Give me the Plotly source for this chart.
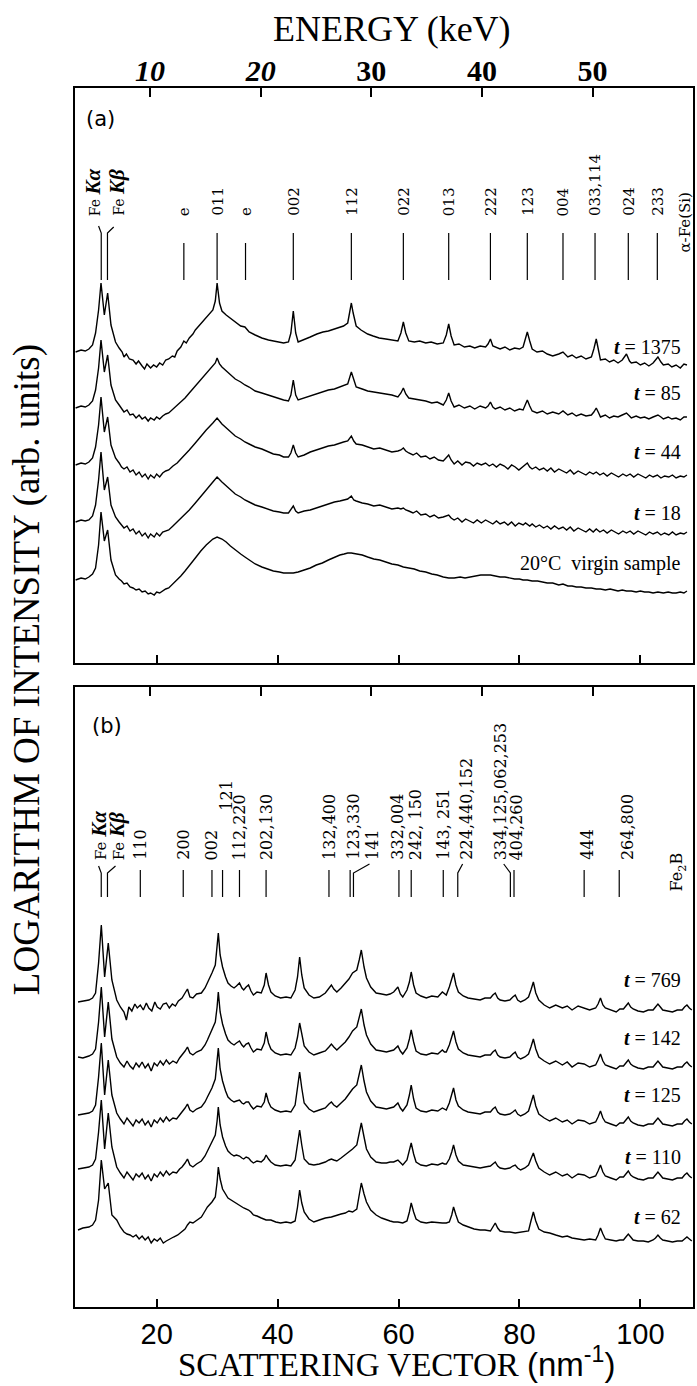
import plotly.graph_objects as go

# ---------------------------------------------------------------------------
# Spectra: (scattering vector q in nm^-1, log intensity in arb. units, stacked)
# ---------------------------------------------------------------------------
# Panel (a): amorphous Fe-Si-B annealed for t minutes
spec_a_1375 = [
    (6.6, 311), (7.5, 313), (8.2, 312), (8.8, 314), (9.4, 318), (9.9, 330), (10.4, 353), (10.8, 380),
    (11.35, 348), (11.9, 370), (12.45, 338), (13.2, 321), (13.8, 315), (14.3, 311), (14.6, 306),
    (15.0, 309), (15.5, 304), (16.1, 303), (16.6, 299), (17.0, 302), (17.6, 297), (18.0, 294),
    (18.4, 299), (19.0, 295), (19.5, 298), (20.0, 296), (20.5, 300), (21.0, 298), (21.5, 303),
    (22.0, 304), (22.6, 307), (23.0, 306), (23.4, 312), (24.0, 316), (24.5, 322), (24.9, 320),
    (25.4, 325), (26.0, 329), (26.4, 333), (27.3, 339), (28.2, 345), (28.8, 349), (29.3, 353),
    (29.7, 362), (30.0, 380), (30.4, 360), (30.8, 352), (31.5, 348), (32.2, 345), (33.0, 341),
    (33.9, 337), (34.6, 336), (35.3, 331), (36.3, 328), (37.4, 325), (38.5, 323), (39.4, 322),
    (40.3, 321), (41.0, 320), (41.8, 321), (42.2, 330), (42.6, 352), (43.0, 330), (43.4, 321),
    (44.3, 323), (45.4, 326), (46.5, 329), (47.5, 331), (48.4, 332), (49.5, 334), (50.3, 336),
    (50.9, 337), (51.6, 340), (52.0, 352), (52.2, 360), (52.5, 350), (53.0, 337), (53.8, 333),
    (54.9, 329), (55.8, 327), (56.8, 325), (57.9, 324), (58.9, 323), (59.9, 322), (60.4, 330),
    (60.8, 341), (61.2, 330), (61.7, 322), (62.6, 321), (63.5, 322), (64.5, 320), (65.4, 321),
    (66.4, 319), (67.4, 320), (67.9, 328), (68.3, 339), (68.7, 327), (69.2, 318), (70.0, 319),
    (70.9, 316), (71.8, 317), (72.6, 315), (73.5, 317), (74.4, 316), (74.8, 319), (75.2, 324),
    (75.6, 317), (76.0, 316), (76.8, 314), (77.6, 316), (78.4, 313), (79.2, 315), (80.0, 314),
    (80.6, 316), (81.0, 325), (81.3, 331), (81.7, 322), (82.1, 314), (82.9, 311), (83.8, 312),
    (84.6, 309), (85.5, 307), (86.5, 309), (87.2, 311), (88.0, 306), (88.7, 308), (89.4, 305),
    (90.2, 307), (91.0, 304), (91.9, 306), (92.3, 314), (92.7, 324), (93.1, 312), (93.4, 303),
    (94.2, 304), (94.9, 301), (95.6, 303), (96.3, 300), (97.0, 303), (97.7, 309), (98.2, 302),
    (98.5, 300), (99.3, 301), (100.0, 298), (100.7, 300), (101.4, 297), (102.1, 300), (102.9, 306),
    (103.4, 301), (103.8, 298), (104.6, 299), (105.2, 296), (105.9, 298), (106.6, 295),
    (107.2, 299), (107.7, 298)]

spec_a_85 = [
    (6.6, 255), (7.5, 257), (8.2, 256), (8.8, 258), (9.4, 262), (9.9, 273), (10.4, 295), (10.8, 323),
    (11.35, 291), (11.9, 308), (12.45, 278), (13.2, 263), (13.8, 258), (14.2, 255), (14.6, 251),
    (15.1, 253), (15.6, 248), (16.1, 249), (16.6, 245), (17.1, 248), (17.6, 244), (18.1, 246),
    (18.6, 242), (19.0, 245), (19.6, 243), (20.0, 246), (20.5, 244), (21.0, 247), (21.5, 249),
    (22.0, 250), (22.7, 254), (23.4, 257), (24.0, 261), (24.7, 265), (25.4, 270), (26.4, 277),
    (27.3, 284), (28.2, 290), (29.3, 297), (29.7, 300), (30.0, 305), (30.4, 299), (30.8, 296),
    (31.5, 292), (32.2, 288), (33.0, 284), (33.9, 281), (34.6, 278), (35.3, 276), (36.3, 272),
    (37.4, 270), (38.4, 268), (39.3, 266), (40.3, 264), (41.0, 263), (41.8, 262), (42.2, 268),
    (42.6, 283), (43.0, 268), (43.4, 263), (44.4, 265), (45.4, 267), (46.4, 269), (47.4, 271),
    (48.4, 273), (49.4, 274), (50.3, 276), (50.9, 277), (51.6, 279), (52.2, 291), (52.6, 283),
    (53.0, 276), (54.0, 274), (54.9, 272), (55.9, 271), (56.9, 270), (57.9, 269), (58.9, 268),
    (59.9, 266), (60.4, 270), (60.8, 275), (61.2, 269), (61.7, 265), (62.6, 264), (63.5, 263),
    (64.5, 262), (65.5, 260), (66.4, 261), (67.4, 258), (67.9, 263), (68.3, 270), (68.7, 262),
    (69.2, 256), (70.0, 258), (70.9, 255), (71.8, 257), (72.6, 254), (73.5, 257), (74.4, 255),
    (74.8, 257), (75.2, 261), (75.6, 256), (76.0, 254), (76.8, 256), (77.6, 253), (78.4, 255),
    (79.2, 252), (80.0, 254), (80.6, 253), (81.0, 258), (81.3, 263), (81.7, 257), (82.1, 252),
    (82.9, 250), (83.8, 252), (84.6, 249), (85.5, 251), (86.5, 249), (87.2, 252), (88.0, 248),
    (88.7, 250), (89.4, 247), (90.2, 249), (91.0, 247), (91.9, 248), (92.3, 251), (92.7, 255),
    (93.1, 250), (93.4, 246), (94.2, 248), (94.9, 245), (95.6, 247), (96.3, 246), (97.0, 248),
    (97.7, 250), (98.2, 247), (98.5, 245), (99.3, 247), (100.0, 245), (100.7, 246), (101.4, 244),
    (102.1, 246), (102.9, 248), (103.4, 246), (103.8, 244), (104.6, 246), (105.2, 244),
    (105.9, 245), (106.6, 243), (107.2, 246), (107.7, 246)]

spec_a_44 = [
    (6.6, 198), (7.5, 200), (8.2, 199), (8.8, 201), (9.4, 205), (9.9, 216), (10.4, 238), (10.8, 266),
    (11.35, 231), (11.9, 246), (12.45, 218), (13.2, 205), (13.8, 200), (14.2, 196), (14.6, 194),
    (15.1, 196), (15.6, 191), (16.1, 193), (16.6, 188), (17.1, 191), (17.6, 186), (18.1, 189),
    (18.6, 184), (19.0, 188), (19.6, 185), (20.0, 189), (20.5, 186), (21.0, 190), (21.5, 192),
    (22.0, 193), (22.7, 197), (23.4, 200), (24.0, 204), (24.7, 208), (25.4, 213), (26.4, 220),
    (27.3, 227), (28.2, 233), (29.3, 240), (30.0, 245), (30.8, 239), (31.5, 235), (32.2, 231),
    (33.0, 227), (33.9, 224), (34.6, 221), (35.3, 219), (36.3, 216), (37.4, 214), (38.4, 211),
    (39.3, 209), (40.3, 208), (41.0, 206), (41.8, 206), (42.2, 210), (42.6, 218), (43.0, 210),
    (43.4, 206), (44.4, 208), (45.4, 211), (46.4, 213), (47.4, 215), (48.4, 217), (49.4, 218),
    (50.3, 220), (50.9, 221), (51.6, 222), (52.2, 227), (52.6, 222), (53.0, 219), (54.0, 218),
    (54.9, 216), (55.9, 214), (56.9, 215), (57.9, 213), (58.9, 211), (59.9, 212), (60.4, 213),
    (60.8, 215), (61.2, 212), (61.7, 210), (62.4, 208), (63.0, 210), (63.7, 206), (64.5, 207),
    (65.2, 204), (65.9, 206), (66.6, 203), (67.4, 202), (67.9, 205), (68.3, 208), (68.7, 203),
    (69.2, 199), (69.8, 202), (70.5, 198), (71.1, 201), (71.8, 200), (72.4, 197), (73.0, 200),
    (73.7, 198), (74.4, 200), (75.0, 197), (75.6, 199), (76.2, 196), (76.8, 199), (77.5, 197),
    (78.1, 194), (78.7, 198), (79.3, 196), (79.9, 193), (80.6, 197), (81.0, 199), (81.3, 200),
    (81.7, 196), (82.1, 194), (82.7, 196), (83.3, 193), (84.0, 195), (84.6, 192), (85.2, 195),
    (85.8, 191), (86.5, 194), (87.2, 192), (87.8, 190), (88.4, 193), (89.0, 189), (89.7, 192),
    (90.3, 190), (91.0, 188), (91.6, 191), (92.2, 189), (92.7, 191), (93.3, 188), (93.9, 190),
    (94.5, 187), (95.2, 190), (95.8, 188), (96.4, 186), (97.1, 189), (97.7, 187), (98.3, 189),
    (98.9, 186), (99.6, 189), (100.2, 187), (100.9, 185), (101.5, 188), (102.1, 186), (102.8, 188),
    (103.4, 185), (104.0, 187), (104.7, 186), (105.3, 188), (105.9, 185), (106.6, 187),
    (107.2, 186), (107.7, 188)]

spec_a_18 = [
    (6.6, 141), (7.5, 143), (8.2, 142), (8.8, 143), (9.4, 147), (9.9, 158), (10.4, 183), (10.8, 211),
    (11.35, 173), (11.9, 186), (12.45, 158), (13.2, 146), (13.8, 141), (14.2, 138), (14.6, 135),
    (15.1, 137), (15.6, 132), (16.1, 134), (16.6, 129), (17.1, 132), (17.6, 127), (18.1, 130),
    (18.6, 125), (19.0, 129), (19.6, 126), (20.0, 130), (20.5, 127), (21.0, 131), (21.5, 132),
    (22.0, 133), (22.7, 137), (23.4, 141), (24.0, 145), (24.7, 149), (25.4, 153), (26.4, 160),
    (27.3, 167), (28.2, 173), (29.3, 181), (30.0, 186), (30.8, 181), (31.5, 177), (32.2, 173),
    (33.0, 169), (33.9, 166), (34.6, 163), (35.3, 161), (36.3, 158), (37.4, 156), (38.4, 154),
    (39.3, 152), (40.3, 151), (41.0, 150), (41.8, 150), (42.2, 153), (42.6, 157), (43.0, 152),
    (43.4, 150), (44.4, 152), (45.4, 153), (46.4, 155), (47.4, 157), (48.4, 159), (49.4, 161),
    (50.3, 162), (50.9, 163), (51.6, 164), (52.2, 167), (52.6, 163), (53.0, 162), (54.0, 160),
    (54.9, 159), (55.9, 157), (56.9, 158), (57.9, 156), (58.9, 154), (59.9, 155), (60.4, 154),
    (60.8, 155), (61.2, 153), (61.7, 152), (62.4, 150), (63.0, 152), (63.7, 148), (64.5, 149),
    (65.2, 146), (65.9, 148), (66.6, 145), (67.4, 146), (67.9, 147), (68.3, 148), (68.7, 145),
    (69.2, 143), (69.8, 145), (70.5, 141), (71.1, 144), (71.8, 142), (72.4, 140), (73.0, 143),
    (73.7, 140), (74.4, 143), (75.0, 141), (75.6, 139), (76.2, 142), (76.8, 139), (77.5, 141),
    (78.1, 138), (78.7, 141), (79.3, 137), (79.9, 140), (80.6, 138), (81.0, 140), (81.3, 139),
    (81.7, 137), (82.1, 139), (82.7, 136), (83.3, 138), (84.0, 135), (84.6, 137), (85.2, 134),
    (85.8, 137), (86.5, 134), (87.2, 136), (87.8, 133), (88.4, 136), (89.0, 132), (89.7, 135),
    (90.3, 133), (91.0, 131), (91.6, 134), (92.2, 131), (92.7, 134), (93.3, 131), (93.9, 133),
    (94.5, 130), (95.2, 133), (95.8, 131), (96.4, 129), (97.1, 132), (97.7, 130), (98.3, 132),
    (98.9, 129), (99.6, 132), (100.2, 130), (100.9, 128), (101.5, 131), (102.1, 129), (102.8, 131),
    (103.4, 128), (104.0, 130), (104.7, 128), (105.3, 131), (105.9, 128), (106.6, 130),
    (107.2, 129), (107.7, 131)]

spec_a_virgin = [
    (6.6, 83), (7.5, 85), (8.2, 84), (8.8, 86), (9.4, 89), (9.9, 95), (10.4, 118), (10.8, 151),
    (11.35, 122), (11.9, 133), (12.45, 103), (13.2, 88), (13.8, 84), (14.2, 82), (14.6, 79),
    (15.1, 80), (15.6, 76), (16.1, 75), (16.6, 73), (17.1, 74), (17.6, 71), (18.1, 72), (18.6, 69),
    (19.0, 70), (19.6, 68), (20.0, 71), (20.5, 70), (21.0, 72), (21.5, 74), (22.0, 75), (22.7, 79),
    (23.4, 83), (24.0, 87), (24.7, 92), (25.4, 97), (26.4, 105), (27.3, 112), (28.2, 118),
    (29.3, 124), (30.0, 126), (30.8, 124), (31.5, 121), (32.2, 117), (33.0, 113), (33.9, 109),
    (34.6, 106), (35.3, 103), (36.3, 99), (37.4, 96), (38.4, 94), (39.3, 92), (40.3, 91),
    (41.0, 90), (41.8, 90), (42.6, 90), (43.4, 91), (44.4, 93), (45.4, 95), (46.4, 98), (47.4, 100),
    (48.4, 103), (49.4, 106), (50.3, 108), (51.0, 109), (51.6, 110), (52.2, 110), (53.0, 109),
    (54.0, 108), (54.9, 106), (55.9, 104), (56.9, 103), (57.9, 101), (58.9, 99), (59.9, 98),
    (60.8, 96), (61.7, 95), (62.6, 94), (63.5, 92), (64.5, 91), (65.5, 89), (66.4, 88), (67.4, 86),
    (68.3, 85), (69.2, 85), (70.2, 86), (71.0, 85), (71.8, 86), (72.8, 87), (73.6, 88), (74.4, 88),
    (75.2, 88), (76.0, 87), (76.8, 86), (77.6, 86), (78.4, 85), (79.2, 84), (80.0, 84), (80.6, 83),
    (81.3, 83), (82.1, 82), (83.0, 82), (83.8, 81), (84.6, 80), (85.5, 80), (86.5, 78), (87.2, 79),
    (88.0, 77), (88.7, 77), (89.4, 76), (90.2, 76), (91.0, 75), (91.9, 75), (92.7, 74), (93.4, 74),
    (94.2, 73), (95.0, 74), (95.6, 73), (96.3, 72), (97.0, 73), (97.7, 72), (98.5, 72), (99.3, 71),
    (100.0, 72), (100.7, 71), (101.4, 71), (102.1, 70), (102.9, 71), (103.8, 70), (104.6, 71),
    (105.3, 70), (105.9, 70), (106.6, 71), (107.2, 70), (107.7, 72)]

labels_a = ["<b><i>t</i></b> = 1375", "<b><i>t</i></b> = 85", "<b><i>t</i></b> = 44",
            "<b><i>t</i></b> = 18", "20°C  virgin sample"]
label_level_a = [316, 270, 211, 150, 100]

# Panel (b)
spec_b_769 = [
    (7.0, 305), (7.8, 306), (8.8, 307), (9.4, 309), (9.9, 314), (10.4, 344), (10.85, 382), (11.4, 330),
    (12.0, 364), (12.6, 327), (13.4, 307), (14.0, 300), (14.6, 295), (15.0, 287), (15.4, 300),
    (15.9, 296), (16.4, 303), (16.8, 299), (17.3, 302), (17.8, 297), (18.3, 304), (18.7, 299),
    (19.2, 296), (19.7, 305), (20.1, 300), (20.6, 298), (21.1, 303), (21.6, 304), (22.1, 299),
    (22.6, 303), (23.1, 301), (23.6, 306), (24.2, 309), (24.7, 314), (25.1, 318), (25.5, 310),
    (26.0, 309), (26.6, 313), (27.4, 314), (28.0, 319), (28.4, 324), (29.15, 334), (29.7, 342),
    (30.0, 360), (30.2, 374), (30.5, 352), (30.9, 340), (31.4, 330), (31.8, 324), (32.3, 321),
    (32.8, 319), (33.2, 321), (33.7, 324), (34.1, 319), (34.4, 317), (34.8, 320), (35.2, 322),
    (35.6, 316), (36.0, 312), (36.6, 315), (37.3, 314), (37.8, 322), (38.1, 334), (38.5, 322),
    (38.9, 315), (39.6, 311), (40.5, 309), (41.4, 310), (42.2, 309), (42.9, 317), (43.3, 330),
    (43.65, 350), (44.0, 332), (44.4, 319), (45.2, 312), (46.0, 309), (46.9, 310), (47.9, 314),
    (48.5, 319), (48.9, 322), (49.3, 318), (49.8, 315), (50.5, 319), (51.2, 324), (51.8, 328),
    (52.4, 334), (53.1, 337), (53.5, 347), (53.85, 357), (54.3, 340), (54.7, 329), (55.4, 320),
    (56.3, 314), (57.2, 313), (58.0, 312), (58.6, 313), (59.2, 315), (59.9, 320), (60.3, 313),
    (60.7, 310), (61.4, 317), (61.8, 325), (62.1, 335), (62.5, 322), (62.9, 314), (63.7, 311),
    (64.6, 309), (65.5, 311), (66.5, 310), (67.25, 315), (67.6, 313), (67.9, 312), (68.4, 320),
    (68.8, 328), (69.1, 334), (69.5, 322), (69.9, 315), (70.7, 311), (71.5, 309), (72.5, 308),
    (73.5, 307), (74.3, 309), (75.2, 309), (75.6, 312), (76.0, 314), (76.4, 309), (76.8, 307),
    (77.6, 306), (78.4, 307), (78.9, 310), (79.3, 312), (79.7, 307), (80.2, 305), (80.9, 307),
    (81.5, 310), (81.9, 317), (82.3, 325), (82.7, 314), (83.2, 307), (84.1, 302), (85.0, 299),
    (86.0, 302), (87.1, 299), (87.9, 301), (88.7, 297), (89.7, 301), (90.7, 299), (91.6, 297),
    (92.6, 299), (93.0, 303), (93.4, 309), (93.8, 302), (94.2, 299), (95.1, 297), (96.0, 295),
    (96.6, 298), (97.2, 298), (97.6, 301), (98.0, 304), (98.4, 300), (98.8, 298), (99.6, 296),
    (100.5, 295), (101.3, 297), (102.1, 297), (102.5, 300), (102.9, 303), (103.3, 300),
    (103.7, 297), (104.5, 296), (105.3, 295), (106.1, 297), (106.9, 297), (107.3, 300),
    (107.7, 302), (108.1, 299), (108.5, 297)]

spec_b_142 = [
    (7.0, 250), (7.8, 249), (8.8, 251), (9.4, 253), (9.9, 258), (10.4, 285), (10.85, 320), (11.4, 270),
    (12.0, 305), (12.6, 268), (13.4, 250), (14.0, 244), (14.6, 240), (15.1, 246), (15.6, 241),
    (16.1, 238), (16.6, 244), (17.1, 240), (17.6, 245), (18.1, 239), (18.6, 243), (19.1, 236),
    (19.6, 244), (20.1, 241), (20.6, 246), (21.1, 242), (21.6, 247), (22.1, 243), (22.7, 246),
    (23.3, 244), (23.8, 249), (24.2, 252), (24.7, 256), (25.1, 260), (25.5, 254), (26.0, 252),
    (26.6, 255), (27.4, 257), (28.0, 262), (28.4, 267), (29.15, 277), (29.7, 285), (30.0, 300),
    (30.2, 315), (30.5, 295), (30.9, 283), (31.4, 273), (31.8, 267), (32.3, 264), (32.8, 262),
    (33.2, 264), (33.7, 266), (34.1, 262), (34.4, 260), (34.8, 263), (35.2, 264), (35.6, 259),
    (36.0, 255), (36.6, 258), (37.3, 257), (37.8, 264), (38.1, 275), (38.5, 264), (38.9, 258),
    (39.6, 254), (40.5, 252), (41.4, 253), (42.2, 252), (42.9, 259), (43.3, 270), (43.65, 284),
    (44.0, 272), (44.4, 261), (45.2, 255), (46.0, 252), (46.9, 254), (47.9, 256), (48.5, 260),
    (48.9, 263), (49.3, 260), (49.8, 257), (50.5, 261), (51.2, 265), (51.8, 270), (52.4, 276),
    (53.1, 280), (53.5, 289), (53.85, 298), (54.3, 282), (54.7, 272), (55.4, 263), (56.3, 257),
    (57.2, 256), (58.0, 255), (58.6, 256), (59.2, 257), (59.9, 261), (60.3, 256), (60.7, 253),
    (61.4, 259), (61.8, 268), (62.1, 277), (62.5, 265), (62.9, 256), (63.7, 253), (64.6, 252),
    (65.5, 254), (66.5, 253), (67.25, 257), (67.6, 255), (67.9, 255), (68.4, 262), (68.8, 270),
    (69.1, 276), (69.5, 265), (69.9, 258), (70.7, 254), (71.5, 252), (72.5, 251), (73.5, 250),
    (74.3, 252), (75.2, 252), (75.6, 255), (76.0, 257), (76.4, 252), (76.8, 250), (77.6, 249),
    (78.4, 250), (78.9, 253), (79.3, 255), (79.7, 250), (80.2, 248), (80.9, 250), (81.5, 253),
    (81.9, 260), (82.3, 268), (82.7, 258), (83.2, 250), (84.1, 246), (85.0, 243), (86.0, 246),
    (87.1, 242), (87.9, 245), (88.7, 240), (89.7, 244), (90.7, 243), (91.6, 240), (92.6, 242),
    (93.0, 247), (93.4, 253), (93.8, 246), (94.2, 242), (95.1, 240), (96.0, 238), (96.6, 241),
    (97.2, 241), (97.6, 244), (98.0, 247), (98.4, 243), (98.8, 241), (99.6, 239), (100.5, 238),
    (101.3, 240), (102.1, 240), (102.5, 243), (102.9, 246), (103.3, 243), (103.7, 240),
    (104.5, 239), (105.3, 238), (106.1, 240), (106.9, 240), (107.3, 243), (107.7, 245),
    (108.1, 242), (108.5, 240)]

spec_b_125 = [
    (7.0, 192), (7.8, 193), (8.8, 194), (9.4, 196), (9.9, 202), (10.4, 230), (10.85, 264), (11.4, 212),
    (12.0, 247), (12.6, 212), (13.4, 194), (14.0, 188), (14.6, 183), (15.1, 189), (15.6, 185),
    (16.1, 181), (16.6, 187), (17.1, 184), (17.6, 188), (18.1, 182), (18.6, 186), (19.1, 180),
    (19.6, 187), (20.1, 184), (20.6, 189), (21.1, 185), (21.6, 190), (22.1, 186), (22.7, 189),
    (23.3, 188), (23.8, 192), (24.2, 195), (24.7, 199), (25.1, 203), (25.5, 197), (26.0, 195),
    (26.6, 198), (27.4, 200), (28.0, 205), (28.4, 210), (29.15, 219), (29.7, 228), (30.0, 243),
    (30.2, 259), (30.5, 238), (30.9, 226), (31.4, 216), (31.8, 210), (32.3, 207), (32.8, 205),
    (33.2, 206), (33.7, 207), (34.1, 204), (34.4, 203), (34.8, 205), (35.2, 205), (35.6, 201),
    (36.0, 198), (36.6, 201), (37.3, 200), (37.8, 205), (38.1, 214), (38.5, 205), (38.9, 200),
    (39.6, 197), (40.5, 195), (41.4, 196), (42.2, 195), (42.9, 202), (43.3, 218), (43.65, 235),
    (44.0, 219), (44.4, 204), (45.2, 198), (46.0, 195), (46.9, 197), (47.9, 199), (48.5, 203),
    (48.9, 205), (49.3, 202), (49.8, 200), (50.5, 204), (51.2, 208), (51.8, 213), (52.4, 218),
    (53.1, 222), (53.5, 232), (53.85, 242), (54.3, 226), (54.7, 215), (55.4, 206), (56.3, 200),
    (57.2, 199), (58.0, 198), (58.6, 199), (59.2, 200), (59.9, 204), (60.3, 199), (60.7, 196),
    (61.4, 202), (61.8, 212), (62.1, 222), (62.5, 208), (62.9, 199), (63.7, 196), (64.6, 195),
    (65.5, 197), (66.5, 196), (67.25, 199), (67.6, 198), (67.9, 197), (68.4, 204), (68.8, 212),
    (69.1, 219), (69.5, 207), (69.9, 201), (70.7, 197), (71.5, 195), (72.5, 194), (73.5, 193),
    (74.3, 195), (75.2, 195), (75.6, 198), (76.0, 200), (76.4, 195), (76.8, 193), (77.6, 192),
    (78.4, 193), (78.9, 195), (79.3, 197), (79.7, 193), (80.2, 191), (80.9, 193), (81.5, 196),
    (81.9, 204), (82.3, 212), (82.7, 201), (83.2, 193), (84.1, 189), (85.0, 186), (86.0, 189),
    (87.1, 185), (87.9, 187), (88.7, 183), (89.7, 187), (90.7, 186), (91.6, 183), (92.6, 185),
    (93.0, 190), (93.4, 196), (93.8, 189), (94.2, 185), (95.1, 183), (96.0, 181), (96.6, 184),
    (97.2, 184), (97.6, 187), (98.0, 190), (98.4, 186), (98.8, 184), (99.6, 182), (100.5, 181),
    (101.3, 183), (102.1, 183), (102.5, 186), (102.9, 189), (103.3, 186), (103.7, 183),
    (104.5, 182), (105.3, 181), (106.1, 183), (106.9, 183), (107.3, 186), (107.7, 188),
    (108.1, 185), (108.5, 183)]

spec_b_110 = [
    (7.0, 138), (7.8, 139), (8.8, 140), (9.4, 142), (9.9, 148), (10.4, 175), (10.85, 207), (11.4, 158),
    (12.0, 194), (12.6, 160), (13.4, 140), (14.0, 134), (14.6, 129), (15.1, 135), (15.6, 131),
    (16.1, 127), (16.6, 133), (17.1, 130), (17.6, 134), (18.1, 128), (18.6, 132), (19.1, 126),
    (19.6, 133), (20.1, 130), (20.6, 135), (21.1, 131), (21.6, 136), (22.1, 132), (22.7, 135),
    (23.3, 134), (23.8, 138), (24.2, 140), (24.7, 144), (25.1, 148), (25.5, 142), (26.0, 140),
    (26.6, 143), (27.4, 146), (28.0, 151), (28.4, 156), (29.15, 164), (29.7, 172), (30.0, 186),
    (30.2, 200), (30.5, 182), (30.9, 170), (31.4, 161), (31.8, 156), (32.3, 153), (32.8, 151),
    (33.2, 152), (33.7, 151), (34.1, 149), (34.4, 148), (34.8, 150), (35.2, 149), (35.6, 146),
    (36.0, 144), (36.6, 146), (37.3, 145), (37.8, 148), (38.1, 152), (38.5, 148), (38.9, 145),
    (39.6, 142), (40.5, 141), (41.4, 142), (42.2, 141), (42.9, 147), (43.3, 162), (43.65, 177),
    (44.0, 162), (44.4, 148), (45.2, 143), (46.0, 142), (46.9, 143), (47.9, 145), (48.5, 147),
    (48.9, 148), (49.3, 147), (49.8, 146), (50.5, 149), (51.2, 152), (51.8, 155), (52.4, 158),
    (53.1, 162), (53.5, 173), (53.85, 184), (54.3, 170), (54.7, 158), (55.4, 150), (56.3, 145),
    (57.2, 144), (58.0, 144), (58.6, 145), (59.2, 145), (59.9, 147), (60.3, 144), (60.7, 142),
    (61.4, 147), (61.8, 156), (62.1, 164), (62.5, 153), (62.9, 145), (63.7, 142), (64.6, 141),
    (65.5, 143), (66.5, 142), (67.25, 144), (67.6, 143), (67.9, 143), (68.4, 148), (68.8, 155),
    (69.1, 162), (69.5, 152), (69.9, 146), (70.7, 142), (71.5, 141), (72.5, 140), (73.5, 139),
    (74.3, 140), (75.2, 141), (75.6, 143), (76.0, 145), (76.4, 141), (76.8, 139), (77.6, 138),
    (78.4, 139), (78.9, 141), (79.3, 142), (79.7, 139), (80.2, 137), (80.9, 139), (81.5, 142),
    (81.9, 148), (82.3, 154), (82.7, 146), (83.2, 139), (84.1, 135), (85.0, 132), (86.0, 135),
    (87.1, 131), (87.9, 133), (88.7, 129), (89.7, 133), (90.7, 132), (91.6, 129), (92.6, 131),
    (93.0, 136), (93.4, 142), (93.8, 135), (94.2, 131), (95.1, 129), (96.0, 127), (96.6, 130),
    (97.2, 130), (97.6, 133), (98.0, 136), (98.4, 132), (98.8, 130), (99.6, 128), (100.5, 127),
    (101.3, 129), (102.1, 129), (102.5, 132), (102.9, 135), (103.3, 132), (103.7, 129),
    (104.5, 128), (105.3, 127), (106.1, 129), (106.9, 129), (107.3, 132), (107.7, 134),
    (108.1, 131), (108.5, 129)]

spec_b_62 = [
    (7.0, 77), (7.8, 79), (8.8, 80), (9.4, 82), (9.9, 87), (10.4, 107), (10.85, 147), (11.4, 118),
    (12.0, 124), (12.6, 92), (13.4, 87), (14.0, 80), (14.6, 75), (15.1, 73), (15.6, 72), (16.1, 70),
    (16.6, 72), (17.1, 68), (17.6, 71), (18.1, 67), (18.6, 70), (19.1, 64), (19.6, 68), (20.1, 66),
    (20.6, 69), (21.1, 64), (21.6, 66), (22.1, 68), (22.8, 70), (23.5, 72), (24.2, 75), (24.7, 78),
    (25.1, 82), (25.5, 85), (26.0, 84), (26.7, 87), (27.4, 90), (28.0, 96), (28.4, 100), (29.15, 105),
    (29.7, 110), (30.0, 125), (30.2, 140), (30.5, 128), (30.9, 118), (31.8, 109), (32.8, 105),
    (33.7, 102), (34.4, 99), (35.2, 97), (35.6, 95), (36.0, 92), (36.6, 91), (37.3, 89), (38.1, 87),
    (38.9, 87), (39.7, 85), (40.5, 84), (41.4, 85), (42.2, 84), (42.9, 86), (43.3, 100), (43.65, 117),
    (44.0, 104), (44.4, 95), (45.2, 88), (46.0, 85), (46.9, 87), (47.9, 89), (48.9, 90), (49.8, 92),
    (50.5, 93), (51.2, 94), (51.8, 96), (52.4, 95), (53.1, 98), (53.5, 112), (53.85, 124),
    (54.3, 113), (54.7, 105), (55.4, 97), (56.3, 92), (57.2, 89), (58.0, 87), (58.6, 86), (59.2, 85),
    (59.9, 85), (60.7, 84), (61.4, 86), (61.8, 95), (62.1, 104), (62.5, 95), (62.9, 88), (63.7, 85),
    (64.6, 84), (65.5, 85), (66.5, 84), (67.25, 84), (67.9, 84), (68.4, 85), (68.8, 92), (69.1, 100),
    (69.5, 92), (69.9, 85), (70.7, 82), (71.5, 80), (72.5, 78), (73.5, 77), (74.3, 77), (75.2, 76),
    (75.6, 80), (76.0, 84), (76.4, 79), (76.8, 76), (77.6, 75), (78.4, 75), (79.3, 74), (80.2, 75),
    (80.9, 76), (81.5, 76), (81.9, 86), (82.3, 95), (82.7, 86), (83.2, 78), (84.1, 75), (85.0, 74),
    (86.0, 72), (87.1, 70), (87.9, 71), (88.7, 69), (89.7, 68), (90.7, 67), (91.6, 68), (92.6, 67),
    (93.0, 72), (93.4, 79), (93.8, 73), (94.2, 68), (95.1, 67), (96.0, 66), (96.6, 67), (97.2, 67),
    (97.6, 70), (98.0, 73), (98.4, 70), (98.8, 67), (99.6, 66), (100.5, 66), (101.3, 65),
    (102.1, 67), (102.5, 69), (102.9, 72), (103.3, 69), (103.7, 67), (104.5, 66), (105.3, 65),
    (106.1, 66), (106.9, 66), (107.3, 68), (107.7, 70), (108.1, 68), (108.5, 66)]

labels_b = ["<b><i>t</i></b> = 769", "<b><i>t</i></b> = 142", "<b><i>t</i></b> = 125",
            "<b><i>t</i></b> = 110", "<b><i>t</i></b> = 62"]
label_level_b = [327, 269, 212, 150, 90]

# ---------------------------------------------------------------------------
# Reflection markers
# ---------------------------------------------------------------------------
refl_a = [("e", 24.5), ("011", 30.0), ("e", 34.7), ("002", 42.6), ("112", 52.2),
          ("022", 60.8), ("013", 68.3), ("222", 75.2), ("123", 81.3), ("004", 87.2),
          ("033,114", 92.5), ("024", 98.0), ("233", 102.8)]

# (label, line position, label position)
refl_b = [("110", 17.3, 17.3), ("200", 24.4, 24.4), ("002", 29.15, 29.15),
          ("112,220", 33.7, 33.7), ("202,130", 38.1, 38.1), ("132,400", 48.5, 48.5),
          ("123,330", 52.0, 52.4), ("332,004", 60.07, 59.7), ("242, 150", 62.1, 62.85),
          ("143, 251", 67.4, 67.4), ("404,260", 79.1, 79.5), ("444", 90.7, 91.2),
          ("264,800", 96.5, 97.8)]
# markers whose leader bends from the label to the line
refl_b_bent = [("141", 52.55, 55.7), ("224,440,152", 69.8, 71.1),
               ("334,125,062,253", 78.5, 76.9)]

fe_lines = [10.84, 11.87]          # Fe K-alpha, K-beta fluorescence
KEV_SLOPE, KEV_OFFSET = 1.83, 0.6  # q = KEV_SLOPE * E + KEV_OFFSET
Q_RANGE = [6.5, 108.7]
E_RANGE = [(Q_RANGE[0] - KEV_OFFSET) / KEV_SLOPE, (Q_RANGE[1] - KEV_OFFSET) / KEV_SLOPE]

# ---------------------------------------------------------------------------
# Layout helpers (pixel -> paper)
# ---------------------------------------------------------------------------
W, H = 697, 1386
ML, MR, MT, MB = 75, 2, 88, 79
PW, PH = W - ML - MR, H - MT - MB


def px_x(px):
    return (px - ML) / PW


def px_y(py):
    return (H - MB - py) / PH


SERIF = "Liberation Serif"
LBL_SERIF = "DejaVu Serif"

fig = go.Figure()


def add_spectrum(pairs, xa, ya):
    fig.add_trace(go.Scatter(x=[p[0] for p in pairs], y=[p[1] for p in pairs], mode="lines",
                             xaxis=xa, yaxis=ya, line=dict(color="black", width=1.4),
                             showlegend=False, hoverinfo="skip"))


for s in [spec_a_1375, spec_a_85, spec_a_44, spec_a_18, spec_a_virgin]:
    add_spectrum(s, "x2", "y2")
for s in [spec_b_769, spec_b_142, spec_b_125, spec_b_110, spec_b_62]:
    add_spectrum(s, "x", "y")

# invisible anchors so the energy axes get drawn
for xa, ya in [("x3", "y2"), ("x4", "y")]:
    fig.add_trace(go.Scatter(x=E_RANGE, y=[0, 0], mode="markers", xaxis=xa, yaxis=ya,
                             marker=dict(opacity=0), showlegend=False, hoverinfo="skip"))

# marker lines, panel (a)
LA_LO, LA_HI, LA_TXT = 383, 430, 445
xs, ys = [], []
for name, q in refl_a:
    top = 420 if name == "e" else LA_HI
    xs += [q, q, None]
    ys += [LA_LO, top, None]
xs += [10.4, fe_lines[0], fe_lines[0], None, 12.9, fe_lines[1], fe_lines[1], None]
ys += [437, 430, LA_LO, None, 436, 430, LA_LO, None]
fig.add_trace(go.Scatter(x=xs, y=ys, mode="lines", xaxis="x2", yaxis="y2",
                         line=dict(color="black", width=1.2), showlegend=False,
                         hoverinfo="skip"))

# marker lines, panel (b)
LB_LO, LB_HI, LB_TXT = 410, 437, 445
xs, ys = [], []
for _, q, _l in refl_b:
    xs += [q, q, None]
    ys += [LB_LO, LB_HI, None]
xs += [30.9, 30.9, None]
ys += [LB_LO, LB_HI, None]
for _, q, ql in refl_b_bent:
    xs += [ql + (0.5 if ql < q else -0.5), q, q, None]
    ys += [443, 434, LB_LO, None]
xs += [10.4, fe_lines[0], fe_lines[0], None, 13.2, fe_lines[1], fe_lines[1], None]
ys += [441, 434, LB_LO, None, 441, 434, LB_LO, None]
fig.add_trace(go.Scatter(x=xs, y=ys, mode="lines", xaxis="x", yaxis="y",
                         line=dict(color="black", width=1.2), showlegend=False,
                         hoverinfo="skip"))

ann = []


def rot_label(text, x, y, xref, yref, size):
    ann.append(dict(text=text, x=x, y=y, xref=xref, yref=yref, textangle=-90,
                    xanchor="center", yanchor="bottom", showarrow=False,
                    font=dict(family=LBL_SERIF, size=size, color="black")))


for name, q in refl_a:
    rot_label(name, q, LA_TXT, "x2", "y2", 15)
kfont = "<span style='font-family:Liberation Serif;font-size:21px'><b><i>K%s</i></b></span>"
rot_label("Fe " + kfont % "α", 9.5, LA_TXT, "x2", "y2", 14)
rot_label("Fe " + kfont % "β", 13.3, LA_TXT, "x2", "y2", 14)
ann.append(dict(text="α-Fe(Si)", x=107.3, y=408, xref="x2", yref="y2", textangle=-90,
                xanchor="center", yanchor="bottom", showarrow=False,
                font=dict(family=LBL_SERIF, size=15, color="black")))

for name, q, ql in refl_b:
    rot_label(name, ql, LB_TXT, "x", "y", 16)
rot_label("121", 31.5, 494, "x", "y", 16)
for name, q, ql in refl_b_bent:
    rot_label(name, ql, LB_TXT, "x", "y", 16)
rot_label("Fe " + kfont % "α", 10.4, LB_TXT, "x", "y", 15)
rot_label("Fe " + kfont % "β", 13.5, LB_TXT, "x", "y", 15)
ann.append(dict(text="Fe<sub>2</sub>B", x=106.2, y=414, xref="x", yref="y", textangle=-90,
                xanchor="center", yanchor="bottom", showarrow=False,
                font=dict(family=LBL_SERIF, size=16, color="black")))

for txt, lev in zip(labels_a, label_level_a):
    ann.append(dict(text=txt, x=107.0, y=lev, xref="x2", yref="y2", xanchor="right",
                    yanchor="middle", showarrow=False,
                    font=dict(family=SERIF, size=20, color="black")))
for txt, lev in zip(labels_b, label_level_b):
    ann.append(dict(text=txt, x=107.0, y=lev, xref="x", yref="y", xanchor="right",
                    yanchor="middle", showarrow=False,
                    font=dict(family=SERIF, size=20, color="black")))

ann.append(dict(text="(a)", x=px_x(84), y=px_y(119), xref="paper", yref="paper",
                xanchor="left", yanchor="middle", showarrow=False,
                font=dict(family="DejaVu Sans", size=21, color="black")))
ann.append(dict(text="(b)", x=px_x(90), y=px_y(726), xref="paper", yref="paper",
                xanchor="left", yanchor="middle", showarrow=False,
                font=dict(family="DejaVu Sans", size=21, color="black")))
ann.append(dict(text="ENERGY (keV)", x=px_x(393), y=px_y(29), xref="paper", yref="paper",
                xanchor="center", yanchor="middle", showarrow=False,
                font=dict(family=SERIF, size=36, color="black")))
ann.append(dict(text="SCATTERING VECTOR <span style='font-family:Liberation Sans'>(nm<sup>-1</sup>)</span>",
                x=px_x(398), y=px_y(1362), xref="paper", yref="paper",
                xanchor="center", yanchor="middle", showarrow=False,
                font=dict(family=SERIF, size=33, color="black")))
ann.append(dict(text="LOGARITHM OF INTENSITY (arb. units)", x=px_x(27), y=px_y(670),
                xref="paper", yref="paper", textangle=-90, xanchor="center",
                yanchor="middle", showarrow=False,
                font=dict(family=SERIF, size=37, color="black")))

dom_b = [0, px_y(687)]
dom_a = [px_y(663), 1]

q_axis = dict(range=Q_RANGE, showline=True, linecolor="black", linewidth=2, mirror=True,
              ticks="inside", ticklen=8, tickwidth=1.5, tickcolor="black",
              tickvals=[20, 40, 60, 80, 100], showgrid=False, zeroline=False)
e_axis = dict(range=E_RANGE, side="top", showline=False, ticks="inside", ticklen=9,
              tickwidth=1.5, tickcolor="black", tickvals=[10, 20, 30, 40, 50],
              showgrid=False, zeroline=False)
y_axis = dict(showline=True, linecolor="black", linewidth=2, mirror=True, ticks="",
              showticklabels=False, showgrid=False, zeroline=False)

fig.update_layout(
    width=W, height=H, margin=dict(l=ML, r=MR, t=MT, b=MB),
    paper_bgcolor="white", plot_bgcolor="white", showlegend=False,
    xaxis=dict(**q_axis, anchor="y",
               tickfont=dict(family="Liberation Sans", size=29, color="black")),
    xaxis2=dict(**q_axis, anchor="y2", showticklabels=False),
    xaxis3=dict(**e_axis, overlaying="x2", anchor="y2", tickmode="array",
                ticktext=["<i>10</i>", "<i>20</i>", "30", "40", "50"],
                tickfont=dict(family=SERIF, size=30, color="black", weight="bold")),
    xaxis4=dict(**e_axis, overlaying="x", anchor="y", showticklabels=False),
    yaxis=dict(**y_axis, domain=dom_b, range=[0, 620], anchor="x"),
    yaxis2=dict(**y_axis, domain=dom_a, range=[0, 575], anchor="x2"),
    annotations=ann,
)

fig.write_html("out.html")
